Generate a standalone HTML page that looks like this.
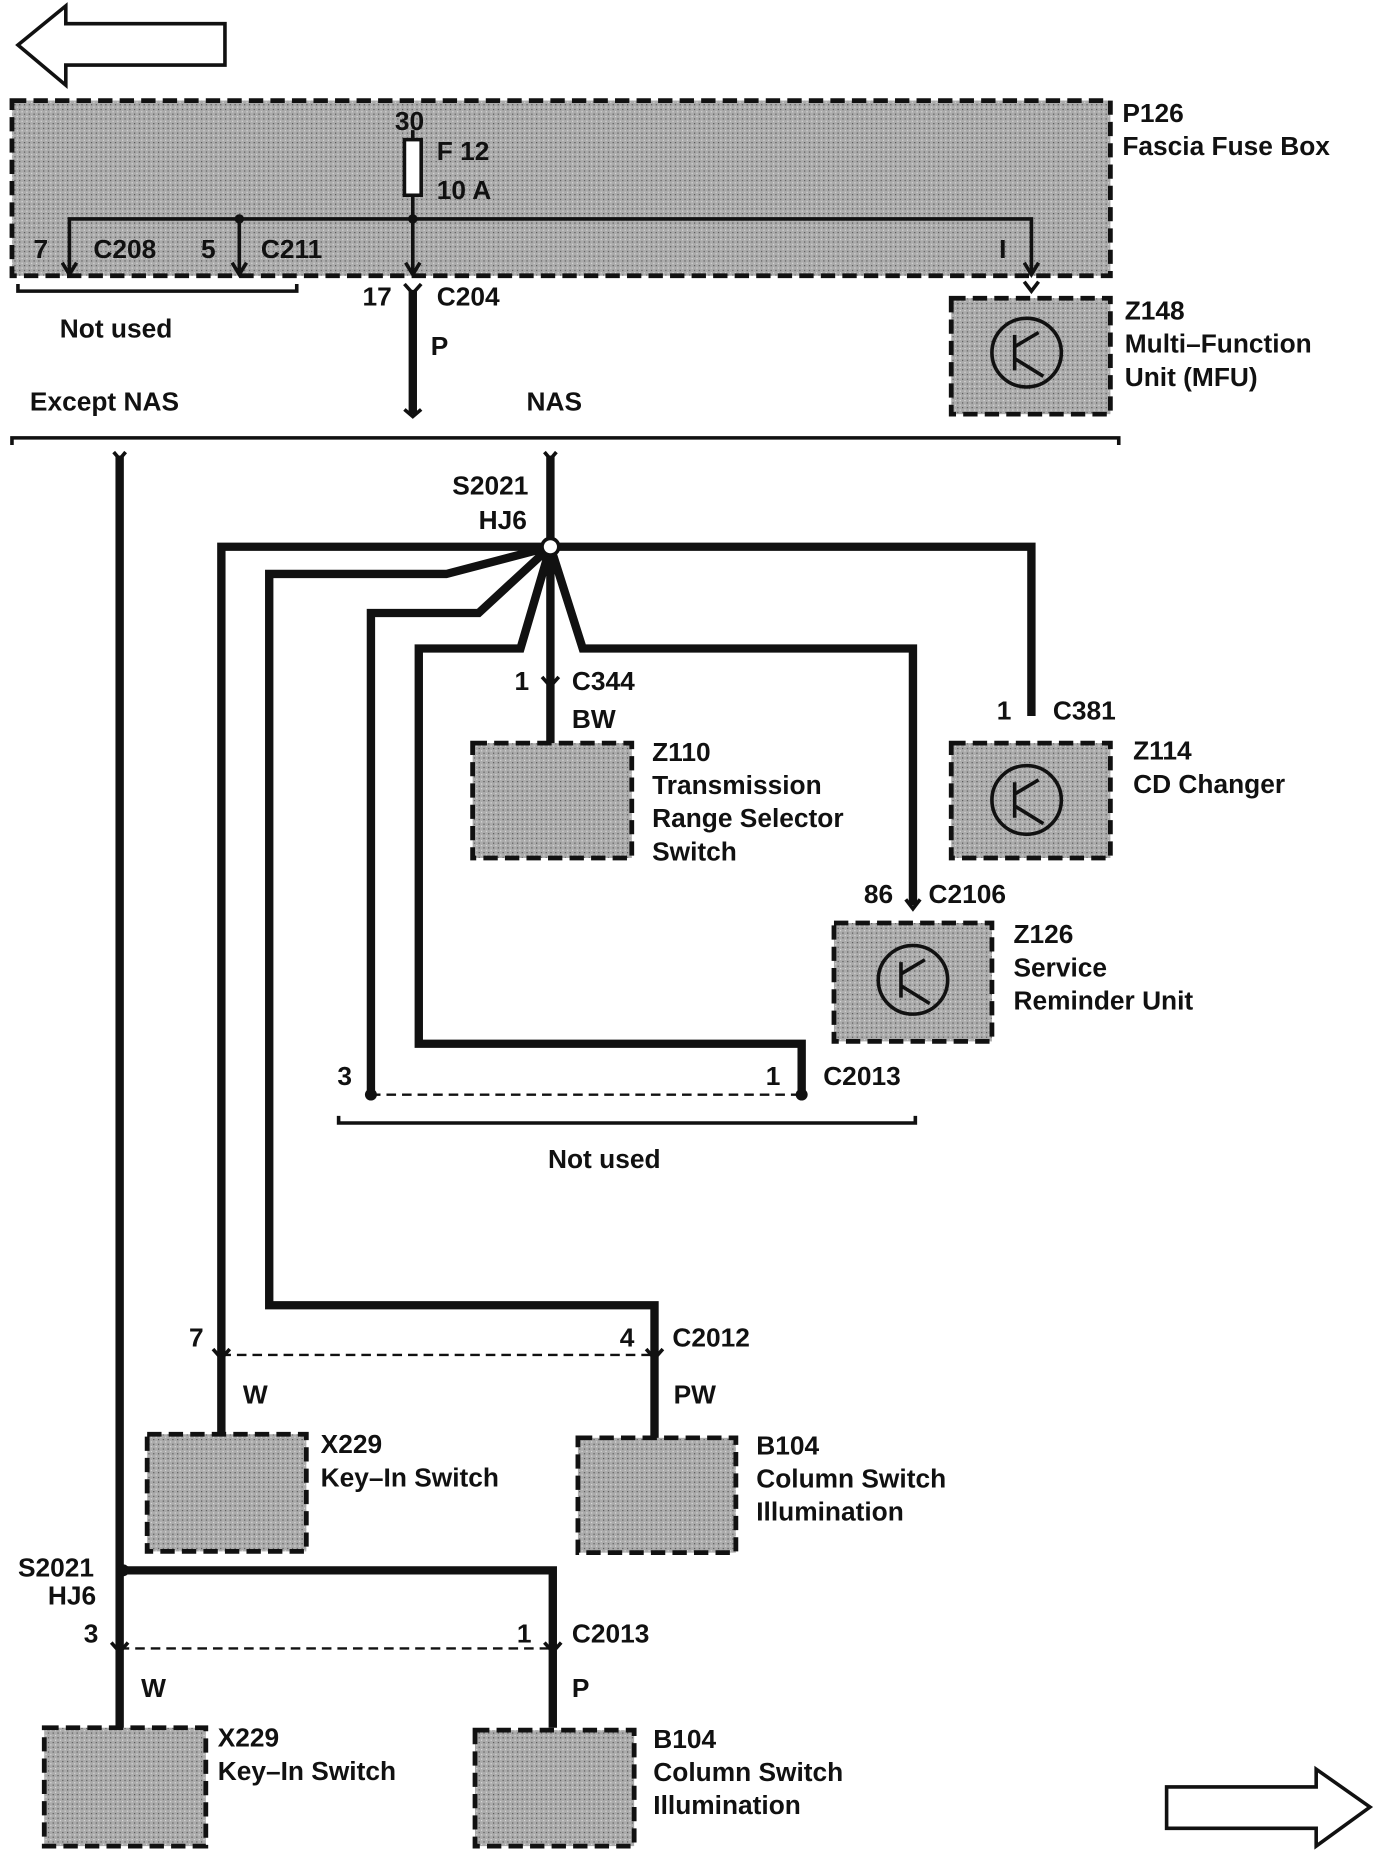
<!DOCTYPE html>
<html><head><style>body{margin:0;background:#fff}svg{display:block}text{font-family:"Liberation Sans",sans-serif;font-weight:bold;font-size:22px;fill:#111}</style></head><body>
<svg width="1376" height="1852" viewBox="0 0 1150 1565" preserveAspectRatio="none" xmlns="http://www.w3.org/2000/svg">
<defs><pattern id="g" width="4" height="4" patternUnits="userSpaceOnUse"><rect width="4" height="4" fill="#ababab"/><rect width="1" height="1" fill="#555"/><rect x="2" y="2" width="1" height="1" fill="#ddd"/></pattern></defs>
<g fill="none" stroke="#111" stroke-width="3">
<path d="M15 38 L55 5 L55 20 L188 20 L188 55 L55 55 L55 72 Z"/>
<path d="M1145 1527 L1100 1495 L1100 1510 L975 1510 L975 1545 L1100 1545 L1100 1560 Z"/>
</g>
<g fill="url(#g)" stroke="#111" stroke-width="4" stroke-dasharray="12,6">
<rect x="10" y="85" width="918" height="148"/>
<rect x="795" y="252" width="133" height="98"/>
<rect x="395" y="628" width="133" height="97"/>
<rect x="795" y="628" width="133" height="97"/>
<rect x="697" y="780" width="132" height="100"/>
<rect x="123" y="1212" width="133" height="99"/>
<rect x="483" y="1215" width="132" height="97"/>
<rect x="37" y="1460" width="135" height="100"/>
<rect x="397" y="1462" width="133" height="98"/>
</g>
<g fill="none" stroke="#111" stroke-width="3">
<rect x="338" y="118" width="14" height="47" fill="#fff"/>
<path d="M345 110V118M345 165V230M58 230V185H862V230M200 185V230"/>
<path d="M52 222L58 232L64 222M194 222L200 232L206 222M339 222L345 232L351 222M856 222L862 232L868 222M856 238L862 246L868 238"/>
<path d="M15 240V246H248V240M10 376V370H935V376M283 943V949H765V943"/>
<circle cx="858" cy="298" r="29"/><circle cx="858" cy="676" r="29"/><circle cx="763" cy="828" r="29"/>
<path d="M848 283V313M848 293L868 281M848 303L872 318M848 661V691M848 671L868 659M848 681L872 696M753 813V843M753 823L773 811M753 833L777 848"/>
<path d="M338 240L345 248L352 240M453 572L460 580L467 572M178 1140L185 1148L192 1140M540 1140L547 1148L554 1140M93 1388L100 1396L107 1388M455 1388L462 1396L469 1388M757 760L763 768L769 760M338 346L345 352L352 346M95 382L100 388L105 382M455 382L460 388L465 382"/>
</g>
<g fill="none" stroke="#111" stroke-width="7" stroke-linejoin="miter">
<path d="M345 245V350M100 385V1460M460 385V462M460 462H185V1212M460 462L373 485H225V1103H547V1215M460 462L400 518H310V925M460 462L435 548H350V882H670V925M460 462V628M460 462L487 548H763V765M460 462H862V605M103 1327H462V1460"/>
</g>
<g fill="none" stroke="#111" stroke-width="2" stroke-dasharray="8,5">
<path d="M310 925H670M185 1145H547M100 1393H462"/>
</g>
<g fill="#111"><circle cx="460" cy="462" r="7" fill="#fff" stroke="#111" stroke-width="3"/><circle cx="103" cy="1327" r="5"/><circle cx="345" cy="185" r="4"/><circle cx="200" cy="185" r="4"/><circle cx="310" cy="925" r="5"/><circle cx="670" cy="925" r="5"/></g>
<text x="330" y="110">30</text><text x="365" y="135">F 12</text><text x="365" y="168">10 A</text>
<text x="938" y="103">P126</text><text x="938" y="131">Fascia Fuse Box</text>
<text x="28" y="218">7</text><text x="78" y="218">C208</text><text x="168" y="218">5</text><text x="218" y="218">C211</text><text x="835" y="218">I</text>
<text x="50" y="285">Not used</text><text x="303" y="258">17</text><text x="365" y="258">C204</text><text x="360" y="300">P</text>
<text x="25" y="347">Except NAS</text><text x="440" y="347">NAS</text>
<text x="940" y="270">Z148</text><text x="940" y="298">Multi–Function</text><text x="940" y="326">Unit (MFU)</text>
<text x="378" y="418">S2021</text><text x="400" y="447">HJ6</text>
<text x="430" y="583">1</text><text x="478" y="583">C344</text><text x="478" y="615">BW</text>
<text x="545" y="643">Z110</text><text x="545" y="671">Transmission</text><text x="545" y="699">Range Selector</text><text x="545" y="727">Switch</text>
<text x="833" y="608">1</text><text x="880" y="608">C381</text><text x="947" y="642">Z114</text><text x="947" y="670">CD Changer</text>
<text x="722" y="763">86</text><text x="776" y="763">C2106</text>
<text x="847" y="797">Z126</text><text x="847" y="825">Service</text><text x="847" y="853">Reminder Unit</text>
<text x="282" y="917">3</text><text x="640" y="917">1</text><text x="688" y="917">C2013</text><text x="458" y="987">Not used</text>
<text x="158" y="1138">7</text><text x="518" y="1138">4</text><text x="562" y="1138">C2012</text><text x="203" y="1186">W</text><text x="563" y="1186">PW</text>
<text x="268" y="1228">X229</text><text x="268" y="1256">Key–In Switch</text>
<text x="632" y="1229">B104</text><text x="632" y="1257">Column Switch</text><text x="632" y="1285">Illumination</text>
<text x="15" y="1332">S2021</text><text x="40" y="1356">HJ6</text>
<text x="70" y="1388">3</text><text x="432" y="1388">1</text><text x="478" y="1388">C2013</text><text x="118" y="1434">W</text><text x="478" y="1434">P</text>
<text x="182" y="1476">X229</text><text x="182" y="1504">Key–In Switch</text>
<text x="546" y="1477">B104</text><text x="546" y="1505">Column Switch</text><text x="546" y="1533">Illumination</text>
</svg>
</body></html>
